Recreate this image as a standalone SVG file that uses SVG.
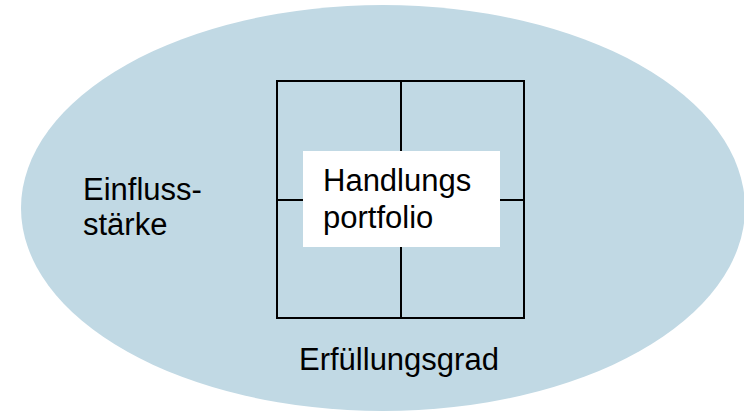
<svg xmlns="http://www.w3.org/2000/svg" width="744" height="411" viewBox="0 0 744 411">
  <style>
    .lbl { font-family: "Liberation Sans", Arial, sans-serif; font-size: 31px; fill: #000; }
    .grid { fill: none; stroke: #000; stroke-width: 2; }
  </style>
  <rect width="744" height="411" fill="#fff"/>
  <!-- background field -->
  <g id="field">
    <ellipse cx="383" cy="208" rx="362" ry="203" fill="#c1d9e4"/>
  </g>
  <!-- 2x2 portfolio matrix -->
  <g id="matrix">
    <rect class="grid" x="277" y="81" width="247" height="237"/>
    <line class="grid" x1="401" y1="81" x2="401" y2="318"/>
    <line class="grid" x1="277" y1="200" x2="524" y2="200"/>
  </g>
  <g id="portfolio">
    <rect x="303" y="151" width="197" height="96" fill="#fff"/>
    <text class="lbl" x="323" y="191">Handlungs</text>
    <text class="lbl" x="323" y="228">portfolio</text>
  </g>
  <g id="axis-y">
    <text class="lbl" x="83" y="200">Einfluss-</text>
    <text class="lbl" x="83" y="235">stärke</text>
  </g>
  <g id="axis-x">
    <text class="lbl" x="299" y="370">Erfüllungsgrad</text>
  </g>
  <g id="connectors"/>
</svg>
